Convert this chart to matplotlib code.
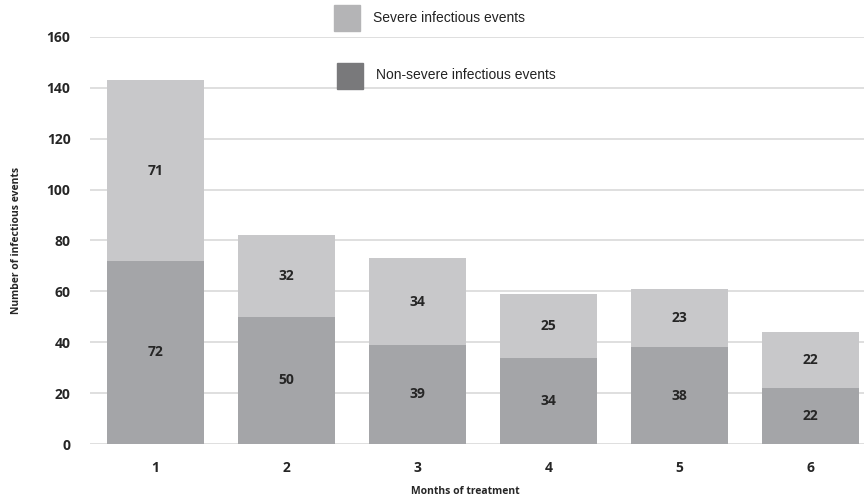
import matplotlib.pyplot as plt
from matplotlib.patches import Rectangle

# monthly counts of infectious events
months = ['1', '2', '3', '4', '5', '6']
non_severe = [72, 50, 39, 34, 38, 22]
severe = [71, 32, 34, 25, 23, 22]
yticks = [0, 20, 40, 60, 80, 100, 120, 140, 160]

W, H = 864, 503
fig = plt.figure(figsize=(W / 100, H / 100), dpi=100)
ax = fig.add_axes([90 / W, (H - 444) / H, 774 / W, 407 / H])

x = list(range(1, len(months) + 1))
ax.bar(x, non_severe, width=0.745, color='#a4a5a8', zorder=2)
ax.bar(x, severe, width=0.745, bottom=non_severe, color='#c8c8ca', zorder=2)

lab = dict(ha='center', va='center', fontsize=10, fontweight='bold',
           color='#262626', family='Open Sans')
for xi, ns, sv in zip(x, non_severe, severe):
    ax.text(xi, ns / 2, str(ns), **lab)
    ax.text(xi, ns + sv / 2, str(sv), **lab)

ax.set_xlim(0.5, 0.5 + 774 / 131)
ax.set_ylim(0, 160)
ax.set_yticks(yticks)
ax.set_xticks(x)
ax.set_xticklabels(months)
ax.grid(axis='y', color='#d9d9d9', linewidth=1.2, zorder=0)
for s in ax.spines.values():
    s.set_visible(False)
ax.tick_params(length=0, labelsize=10, labelcolor='#262626')
ax.tick_params(axis='y', pad=14)
ax.tick_params(axis='x', pad=12)
for t in ax.get_xticklabels() + ax.get_yticklabels():
    t.set_fontweight('bold')
    t.set_family('Open Sans')

fig.text(17 / W, 1 - 240 / H, 'Number of infectious events', rotation=90,
         ha='center', va='center', fontsize=7.5, fontweight='bold',
         family='Open Sans', color='#262626')
fig.text(465 / W, 1 - 492 / H, 'Months of treatment', ha='center', va='center',
         fontsize=7.5, fontweight='bold', family='Open Sans', color='#262626')

# legend drawn as figure patches above the plot
fig.patches.append(Rectangle((334 / W, 1 - 31 / H), 26 / W, 26 / H,
                             transform=fig.transFigure, color='#b4b4b6'))
fig.text(373 / W, 1 - 18 / H, 'Severe infectious events', va='center',
         fontsize=10, family='Liberation Sans', color='#222222')
fig.patches.append(Rectangle((337 / W, 1 - 89 / H), 26 / W, 26 / H,
                             transform=fig.transFigure, color='#79797b', zorder=5))
fig.text(376 / W, 1 - 75 / H, 'Non-severe infectious events', va='center',
         fontsize=10, family='Liberation Sans', color='#222222')

fig.savefig('out.png', dpi=100)
